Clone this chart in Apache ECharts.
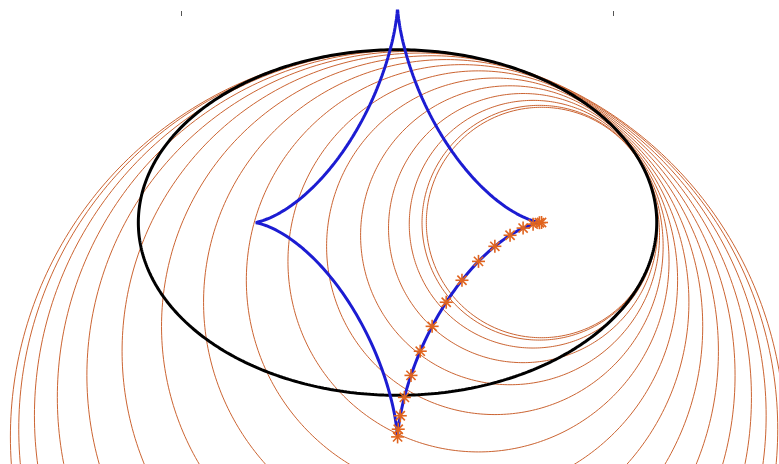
<!DOCTYPE html>
<html>
<head>
<meta charset="utf-8">
<script src="https://cdn.jsdelivr.net/npm/echarts@6/dist/echarts.min.js"></script>
<style>html,body{margin:0;padding:0;background:#fff}#c{width:779px;height:464px}</style>
</head>
<body>
<div id="c"></div>
<script>
// Ellipse semi-axes
var semiAxes = [3, 2];
// Parameter values (rad) of the osculating circles / star markers
var tValues = [0, 0.1, 0.2, 0.3, 0.4, 0.5, 0.6, 0.7, 0.8, 0.9, 1.0, 1.1, 1.2, 1.3, 1.4, 1.5];
// Axis ranges and tick values
var xRange = [-4.601, 4.415];
var yRange = [-2.795, 2.448];
var xTicks = [-2.5, 0, 2.5];

var A = semiAxes[0], B = semiAxes[1];
var N = 480;
function ellipsePts() {
  var p = [];
  for (var i = 0; i <= N; i++) { var s = 2 * Math.PI * i / N; p.push([A * Math.cos(s), B * Math.sin(s)]); }
  return p;
}
function evolutePt(t) {
  var c = (A * A - B * B);
  return [c / A * Math.pow(Math.cos(t), 3), -c / B * Math.pow(Math.sin(t), 3)];
}
function evolutePts() {
  var p = [];
  for (var i = 0; i <= N; i++) { var s = 2 * Math.PI * i / N; p.push(evolutePt(s)); }
  return p;
}
function radiusAt(t) {
  var q = A * A * Math.sin(t) * Math.sin(t) + B * B * Math.cos(t) * Math.cos(t);
  return Math.pow(q, 1.5) / (A * B);
}
var series = [];
tValues.forEach(function (t) {
  var c = evolutePt(t), r = radiusAt(t), p = [];
  for (var i = 0; i <= 360; i++) { var s = 2 * Math.PI * i / 360; p.push([c[0] + r * Math.cos(s), c[1] + r * Math.sin(s)]); }
  series.push({ type: 'line', data: p, showSymbol: false, silent: true, z: 1,
    lineStyle: { color: '#cb6432', width: 1 } });
});
series.push({ type: 'line', data: ellipsePts(), showSymbol: false, z: 2,
  lineStyle: { color: '#000', width: 3 } });
series.push({ type: 'line', data: evolutePts(), showSymbol: false, z: 3,
  lineStyle: { color: '#1c1cd2', width: 3 } });
var centers = tValues.map(function (t) { return evolutePt(t); });
series.push({ type: 'custom', z: 4, data: centers,
  renderItem: function (params, api) {
    var pt = api.coord([api.value(0), api.value(1)]);
    var h = 6.5, d = 4.6, kids = [];
    var segs = [[-h, 0, h, 0], [0, -h, 0, h], [-d, -d, d, d], [-d, d, d, -d]];
    segs.forEach(function (s) {
      kids.push({ type: 'line', shape: { x1: pt[0] + s[0], y1: pt[1] + s[1], x2: pt[0] + s[2], y2: pt[1] + s[3] },
        style: { stroke: '#e0641e', lineWidth: 1.6 } });
    });
    return { type: 'group', children: kids };
  } });

var chart = echarts.init(document.getElementById('c'), null, { renderer: 'canvas' });
chart.setOption({
  animation: false,
  backgroundColor: '#fff',
  grid: { left: 0, right: 0, top: 11, bottom: 0, containLabel: false },
  xAxis: { type: 'value', position: 'top', min: xRange[0], max: xRange[1],
    axisLine: { show: false, onZero: false }, splitLine: { show: false }, axisLabel: { show: false },
    axisTick: { show: true, inside: true, length: 5, customValues: xTicks, lineStyle: { color: '#555', width: 1 } } },
  yAxis: { type: 'value', min: yRange[0], max: yRange[1], show: false, splitLine: { show: false } },
  series: series
});
</script>
</body>
</html>
